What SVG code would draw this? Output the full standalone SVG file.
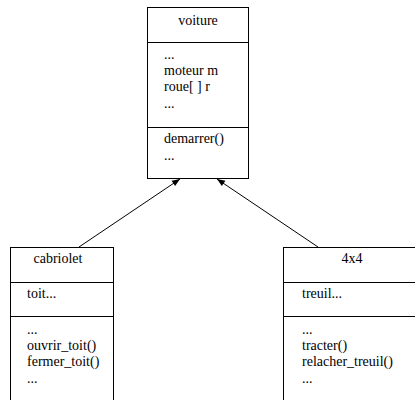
<svg xmlns="http://www.w3.org/2000/svg" width="415" height="400" viewBox="0 0 415 400">
<style>
.box{fill:#fff;stroke:#000;stroke-width:1}
.div{stroke:#000;stroke-width:1}
text{font-family:'Liberation Serif','Times New Roman',Times,'DejaVu Serif',serif;font-size:14px;fill:#000}
.c{text-anchor:middle}
.edge{stroke:#000;stroke-width:1;fill:none;marker-end:url(#arr)}
</style>
<defs>
<marker id="arr" viewBox="0 0 10 10" refX="10" refY="5" markerWidth="10" markerHeight="8" markerUnits="userSpaceOnUse" orient="auto">
<path d="M0,1 L10,5 L0,9 z" fill="#000"/>
</marker>
</defs>
<g id="voiture">
<rect class="box" x="147.5" y="7.5" width="101" height="171"/>
<line class="div" x1="147.5" y1="42.5" x2="248.5" y2="42.5"/>
<line class="div" x1="147.5" y1="127.5" x2="248.5" y2="127.5"/>
<text class="c" x="198" y="25">voiture</text>
<text x="164" y="59">...</text>
<text x="164" y="75">moteur m</text>
<text x="164" y="91">roue[ ] r</text>
<text x="164" y="108">...</text>
<text x="164" y="143">demarrer()</text>
<text x="164" y="160">...</text>
</g>
<g id="cabriolet">
<rect class="box" x="10.5" y="247.5" width="103" height="160"/>
<line class="div" x1="10.5" y1="282.5" x2="113.5" y2="282.5"/>
<line class="div" x1="10.5" y1="316.5" x2="113.5" y2="316.5"/>
<text class="c" x="58" y="263">cabriolet</text>
<text x="27" y="298">toit...</text>
<text x="27" y="334">...</text>
<text x="27" y="350">ouvrir_toit()</text>
<text x="27" y="366">fermer_toit()</text>
<text x="27" y="383">...</text>
</g>
<g id="4x4">
<rect class="box" x="283.5" y="247.5" width="140" height="160"/>
<line class="div" x1="283.5" y1="282.5" x2="423.5" y2="282.5"/>
<line class="div" x1="283.5" y1="316.5" x2="423.5" y2="316.5"/>
<text class="c" x="352" y="263">4x4</text>
<text x="302" y="298">treuil...</text>
<text x="302" y="334">...</text>
<text x="302" y="350">tracter()</text>
<text x="302" y="366">relacher_treuil()</text>
<text x="302" y="383">...</text>
</g>
<g id="connectors">
<line class="edge" x1="79" y1="247" x2="180" y2="179"/>
<line class="edge" x1="318" y1="247" x2="217" y2="179"/>
</g>
</svg>
